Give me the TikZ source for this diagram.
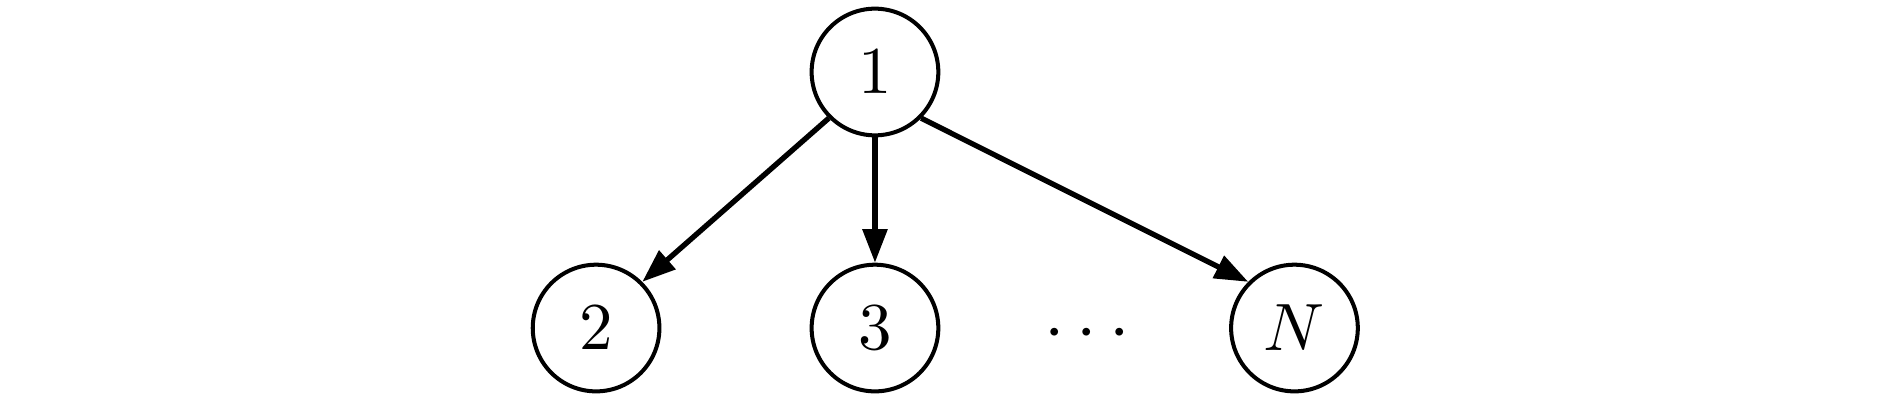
\documentclass[tikz,border=0pt]{standalone}
\usetikzlibrary{arrows.meta}
\begin{document}
\begin{tikzpicture}[>={Triangle[length=5pt,width=3.6pt]},x=1cm,y=1cm,
    vertex/.style={draw,circle,semithick,minimum size=0.665cm,inner sep=0pt}]
            \def\top{1.732}
            \def\bot{0.388}
            \useasboundingbox (0,0) rectangle (9.921,2.110);
            \node[vertex] (v1) at (4.593,\top) {$1$};
            \node[vertex] (v2) at (3.129,\bot) {$2$};
            \node[vertex] (v3) at (4.593,\bot) {$3$};
            \node[anchor=base,inner sep=0pt,font=\fontsize{11}{13}\selectfont] (dots) at (5.706,0.272) {$\cdots$};
            \node[vertex] (vN) at (6.795,\bot) {$N$};
            \draw[->,thick] (v1.south west) -- (v2.north east);
            \draw[->,thick] (v1) -- (v3);
            \draw[->,thick] (v1.south east) -- (vN.north west);
    \end{tikzpicture}
\end{document}
